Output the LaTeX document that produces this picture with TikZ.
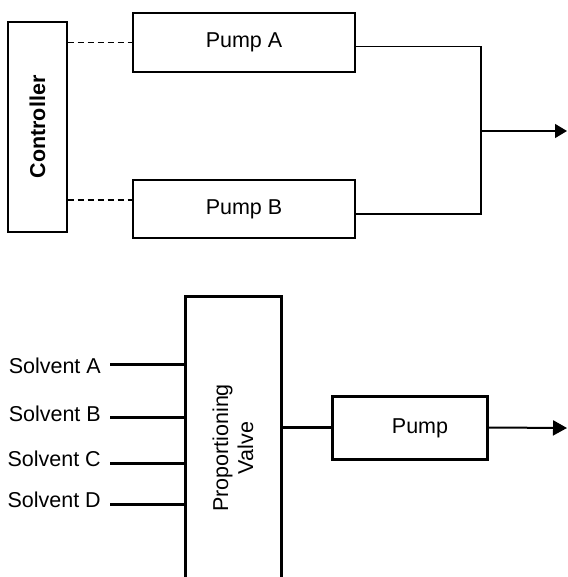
\documentclass[tikz,border=0pt]{standalone}
\usepackage{fontspec}
\setmainfont{Liberation Sans}
\usetikzlibrary{arrows.meta}
\begin{document}
\begin{tikzpicture}[x=1pt,y=-1pt,
  thinbox/.style={draw,line width=1.2pt,inner sep=0pt,font=\fontsize{21.5}{25}\selectfont},
  thickbox/.style={draw,line width=3pt,inner sep=0pt},
  lbl/.style={inner sep=0pt,font=\fontsize{21.5}{25}\selectfont},
  conn/.style={line width=1.2pt},
  thickconn/.style={line width=3pt},
  arrA/.style={-{Triangle[length=12pt,width=14pt]}},
  arrB/.style={-{Triangle[length=14pt,width=15pt]}}]
\useasboundingbox (0,0) rectangle (567,577);
% top
\node[thinbox,minimum width=59pt,minimum height=210pt] (ctrl) at (37.5,127) {};
\node[rotate=90,font=\bfseries\fontsize{21.5}{25}\selectfont] (ctrllbl) at (ctrl.center) {Controller};
\node[thinbox,minimum width=222pt,minimum height=59pt] (pa) at (244,42.5) {Pump A};
\node[thinbox,minimum width=222pt,minimum height=58pt] (pb) at (244,209) {Pump B};
\coordinate (pbw) at ([yshift=9pt]pb.west);
\coordinate (pae) at ([yshift=-4pt]pa.east);
\coordinate (pbe) at ([yshift=-5pt]pb.east);
\draw[conn,dashed,dash pattern=on 6pt off 4pt] (ctrl.east |- pa.west) -- (pa.west);
\draw[conn,dashed,dash pattern=on 6pt off 4pt] (ctrl.east |- pbw) -- (pbw);
\coordinate (j) at (481,131);
\coordinate (out1) at (567,131);
\draw[conn] (pae) -| (j);
\draw[conn] (pbe) -| (j);
\draw[conn,arrA] (j) -- (out1);
% bottom
\node[thickbox,minimum width=96pt,minimum height=304pt] (valve) at (233,448) {};
\node[rotate=90,align=center,lbl] (valvelbl) at (valve.center) {Proportioning\\Valve};
\node[thickbox,minimum width=155pt,minimum height=63pt] (pump) at (409.5,427.5) {};
\node[lbl] (pumplbl) at (420,428) {Pump};
\coordinate (sa) at (110,364);
\coordinate (sb) at (110,417);
\coordinate (sc) at (110,463);
\coordinate (sd) at (110,504);
\node[lbl,anchor=east] (la) at (101,366) {Solvent A};
\node[lbl,anchor=east] (lb) at (101,414) {Solvent B};
\node[lbl,anchor=east] (lc) at (101,459) {Solvent C};
\node[lbl,anchor=east] (ld) at (101,500) {Solvent D};
\draw[thickconn] (sa) -- (sa -| valve.west);
\draw[thickconn] (sb) -- (sb -| valve.west);
\draw[thickconn] (sc) -- (sc -| valve.west);
\draw[thickconn] (sd) -- (sd -| valve.west);
\draw[thickconn] (valve.east |- pump.west) -- (pump.west);
\coordinate (out2) at (567,428);
\draw[line width=2pt,arrB] (pump.east) -- (out2);
\end{tikzpicture}
\end{document}
